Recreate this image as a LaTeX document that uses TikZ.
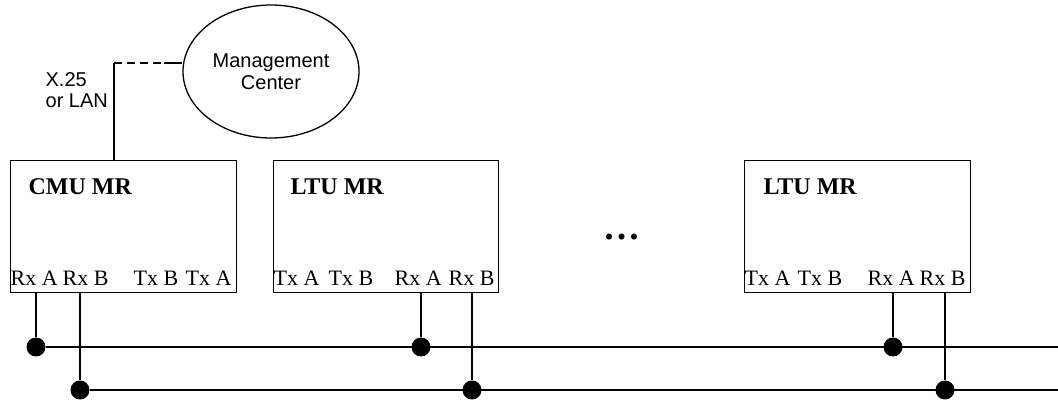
\documentclass[tikz,border=0pt]{standalone}
\usepackage{fontspec}
\setmainfont{Liberation Serif}
\newfontfamily\arialfont{Liberation Sans}
\usetikzlibrary{shapes.geometric}

\tikzstyle{pixfig}=[x=1pt,y=-1pt,line width=1.3pt]
\tikzstyle{unitbox}=[draw,rectangle,anchor=north west,inner sep=0pt,minimum width=226pt,minimum height=132pt]
\tikzstyle{unitname}=[anchor=base west,inner sep=0pt,font=\fontsize{24}{24}\selectfont\bfseries]
\tikzstyle{port}=[anchor=base west,inner sep=0pt,font=\fontsize{22}{22}\selectfont]
\tikzstyle{tap}=[circle,fill,inner sep=0pt,minimum size=19pt]
\tikzstyle{sanstext}=[inner sep=0pt,font=\arialfont\fontsize{20}{21.6}\selectfont]

\begin{document}
\begin{tikzpicture}[style=pixfig]
\useasboundingbox (0,0) rectangle (1058,403);

% management centre and link
\node[draw,ellipse,minimum width=176pt,minimum height=133pt,sanstext,align=center] (mc) at (271,71.5) {Management\\Center};
\node[sanstext,align=left,anchor=base west] (link) at (45,108) {X.25\\or LAN};

% units
\node[unitbox] (cmu) at (10,160) {};
\node[unitbox,minimum width=225pt] (ltuA) at (273,160) {};
\node[unitbox] (ltuB) at (744,160) {};

\node[unitname] (cmuname) at ([xshift=18pt,yshift=-35pt]cmu.north west) {CMU MR};
\node[unitname] (ltuAname) at ([xshift=17pt,yshift=-35pt]ltuA.north west) {LTU MR};
\node[unitname] (ltuBname) at ([xshift=19pt,yshift=-35pt]ltuB.north west) {LTU MR};

\node[port] (cmurxa) at (10,286) {Rx A};
\node[port] (cmurxb) at (62,286) {Rx B};
\node[port] (cmutxb) at (133,286) {Tx B};
\node[port] (cmutxa) at (185,286) {Tx A};

\node[port] (ltuAtxa) at (273,286) {Tx A};
\node[port] (ltuAtxb) at (328,286) {Tx B};
\node[port] (ltuArxa) at (394,286) {Rx A};
\node[port] (ltuArxb) at (448,286) {Rx B};

\node[port] (ltuBtxa) at (744,286) {Tx A};
\node[port] (ltuBtxb) at (797,286) {Tx B};
\node[port] (ltuBrxa) at (867,286) {Rx A};
\node[port] (ltuBrxb) at (919,286) {Rx B};

\node[anchor=base,inner sep=0pt,font=\fontsize{37}{37}\selectfont\bfseries] (more) at (622,240) {…};

% link to the management centre
\coordinate (bend) at (114,63);
\coordinate (dashend) at (164,63);
\draw (cmu.north -| bend) -- (bend);
\draw[dash pattern=on 8pt off 5pt] (bend) -- (dashend);
\draw (dashend) -- (dashend -| mc.west);

% taps and buses
\node[tap] (tapA1) at (36,347) {};
\node[tap] (tapA2) at (421,347) {};
\node[tap] (tapA3) at (893,347) {};
\node[tap] (tapB1) at (80,390) {};
\node[tap] (tapB2) at (472,390) {};
\node[tap] (tapB3) at (945,390) {};
\coordinate (busAend) at (1058,347);
\coordinate (busBend) at (1058,390);

\draw (tapA1) -- (busAend);
\draw (tapB1) -- (busBend);

\draw (cmu.south -| tapA1) -- (tapA1);
\draw (cmu.south -| tapB1) -- (tapB1);
\draw (ltuA.south -| tapA2) -- (tapA2);
\draw (ltuA.south -| tapB2) -- (tapB2);
\draw (ltuB.south -| tapA3) -- (tapA3);
\draw (ltuB.south -| tapB3) -- (tapB3);
\end{tikzpicture}
\end{document}
